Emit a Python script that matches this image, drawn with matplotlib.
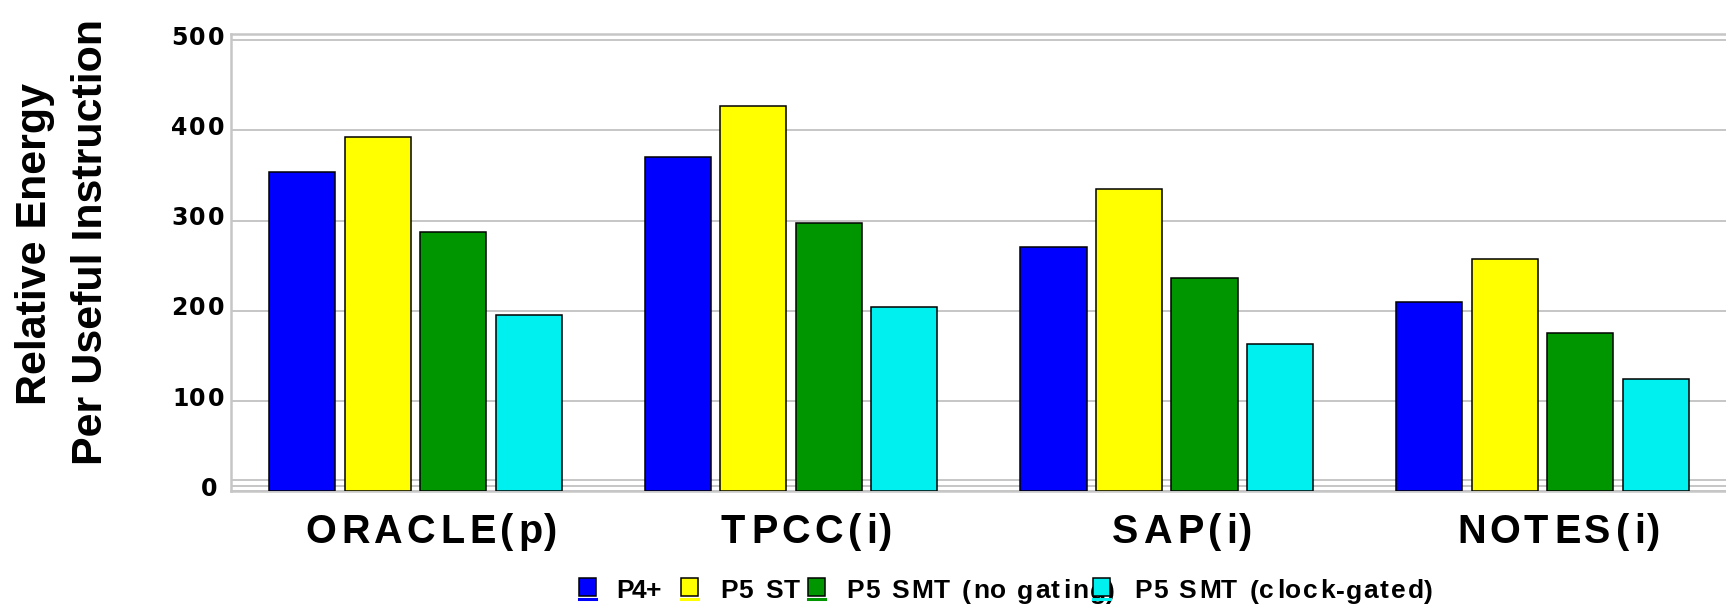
import numpy as np
import matplotlib
matplotlib.use("Agg")
import matplotlib.pyplot as plt
from matplotlib import font_manager
from matplotlib.font_manager import FontProperties
from matplotlib.ft2font import FT2Font
from matplotlib.transforms import IdentityTransform
from matplotlib.patches import Rectangle
from matplotlib.lines import Line2D

# ---------------- data ----------------
categories = ["ORACLE(p)", "TPCC(i)", "SAP(i)", "NOTES(i)"]
series_names = ["P4+", "P5 ST", "P5 SMT (no gating)", "P5 SMT (clock-gated)"]
p4_plus = [354, 370, 271, 210]
p5_st = [393, 427, 335, 258]
p5_smt_no_gating = [287, 297, 236, 175]
p5_smt_clock_gated = [195, 204, 163, 125]
yticks = [0, 100, 200, 300, 400, 500]
ylabel_lines = ["Relative Energy", "Per Useful Instruction"]

# ---------------- style / layout ----------------
colors = ["#0000FF", "#FFFF00", "#009600", "#00F0F0"]
grid_color = "#c6c6c6"
W, H, DPI = 1726, 605, 100
FAM = "Liberation Sans"
_names = {f.name for f in font_manager.fontManager.ttflist}
LEG_FAM = "Liberation Sans Narrow" if "Liberation Sans Narrow" in _names else FAM

fig = plt.figure(figsize=(W / DPI, H / DPI), dpi=DPI)
fig.patch.set_facecolor("white")

y0_px, ytop_px = 491.3, 34.0       # pixel rows (from top) of value 0 and of the outer frame
px_per_unit = 0.9023
ymax = (y0_px - ytop_px) / px_per_unit
ax = fig.add_axes([231 / W, (H - y0_px) / H, 1495.3 / W, (y0_px - ytop_px) / H])
ax.set_xlim(-0.4907, 3.4893)
ax.set_ylim(0, ymax)

series = [p4_plus, p5_st, p5_smt_no_gating, p5_smt_clock_gated]
x = np.arange(len(categories))
pitch, width = 0.201, 0.176
for j, (vals, c) in enumerate(zip(series, colors)):
    ax.bar(x + (j - 1.5) * pitch, vals, width, color=c, edgecolor="black",
           linewidth=1.1, zorder=3)

# grid & frame
ax.set_yticks(yticks)
ax.yaxis.grid(True, color=grid_color, linewidth=1.4)
ax.set_axisbelow(True)
ax.tick_params(left=False, bottom=False, labelleft=False, labelbottom=False)
for s in ["left", "top", "bottom"]:
    ax.spines[s].set_color(grid_color)
    ax.spines[s].set_linewidth(1.8)
ax.spines["right"].set_visible(False)
for fy in [(y0_px - 480) / px_per_unit, (y0_px - 485.7) / px_per_unit]:
    ax.axhline(fy, color=grid_color, linewidth=1.4, zorder=1)


# ---------------- tracked text helper ----------------
def _metrics(s, fp, size_pt):
    ft = FT2Font(font_manager.findfont(fp))
    ft.set_size(size_pt, DPI)
    advs, bears = [], []
    for ch in s:
        g = ft.load_char(ord(ch))
        adv = getattr(g, "linearHoriAdvance", None)
        advs.append(adv / 65536.0 if adv else g.horiAdvance / 64.0)
        bears.append(g.horiBearingX / 64.0)
    return advs, bears


def tracked_text(x_px, y_px_top, s, size_pt, tracking_px=0.0, ha="center",
                 family=FAM, target_width=None):
    fp = FontProperties(family=family, weight="bold", size=size_pt)
    advs, bears = _metrics(s, fp, size_pt)
    if target_width is not None and len(s) > 1:
        tracking_px = (target_width - sum(advs)) / (len(s) - 1)
    total = sum(advs) + tracking_px * (len(s) - 1)
    if ha == "center":
        xc = x_px - total / 2
    elif ha == "right":
        xc = x_px - total
    else:
        xc = x_px
    for ch, a, b in zip(s, advs, bears):
        if ch != " ":
            fig.text(xc + b, H - y_px_top, ch, transform=IdentityTransform(),
                     fontproperties=fp, ha="left", va="baseline", color="black",
                     zorder=3)
        xc += a + tracking_px


# y tick labels
for v in yticks:
    gy = ax.transData.transform((0, v))[1]
    right = 216 if v == 0 else 223
    tracked_text(right, H - gy + 4.5, str(v), 17, 2.0, ha="right", family="DejaVu Sans")

# category labels
for i, cat in enumerate(categories):
    cx = ax.transData.transform((x[i], 0))[0] + 15
    tracked_text(cx, 543, cat, 28.5, 4.5)

# y-axis title (two lines)
fig.text(46, H - 244, ylabel_lines[0], transform=IdentityTransform(), rotation=90,
         rotation_mode="anchor", ha="center", va="baseline", family=FAM,
         fontweight="bold", fontsize=31)
fig.text(102, H - 242, ylabel_lines[1], transform=IdentityTransform(), rotation=90,
         rotation_mode="anchor", ha="center", va="baseline", family=FAM,
         fontweight="bold", fontsize=31)

# legend (manual, bottom) - markers drawn on top of text, as in the original
sq_x = [579, 681, 808, 1093]
txt_x = [614, 718, 845, 1133]
txt_w = [46, 82, 270, 300]
for name, c, sx, tx, tw in zip(series_names, colors, sq_x, txt_x, txt_w):
    tracked_text(tx, 598.5, name, 19, ha="left", family=LEG_FAM, target_width=tw)
for c, sx in zip(colors, sq_x):
    fig.add_artist(Rectangle((sx, H - 596), 17, 18.5, facecolor=c, edgecolor="black",
                             linewidth=1.1, transform=IdentityTransform(), zorder=6))
    fig.add_artist(Line2D([sx, sx + 17], [H - 598.5, H - 598.5], color=c,
                          linewidth=2.2, transform=IdentityTransform(), zorder=6))

fig.savefig("out.png", dpi=DPI, facecolor="white")
